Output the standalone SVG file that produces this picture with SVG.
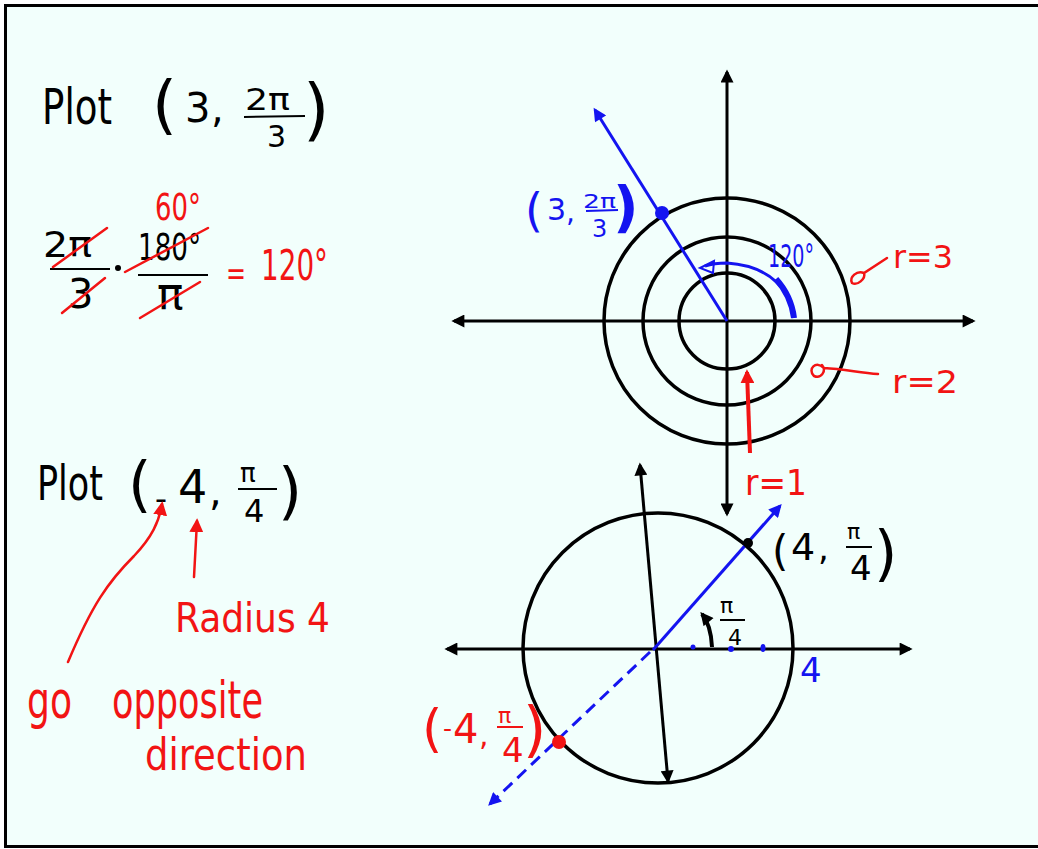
<svg xmlns="http://www.w3.org/2000/svg" width="1038" height="849" viewBox="0 0 1038 849">
<style>
.k{fill:#000}.b{fill:#1414f0}.r{fill:#f21414}
text{font-family:"DejaVu Sans","Liberation Sans",sans-serif}
.ax{stroke:#000;stroke-width:3;fill:none}
.cir{stroke:#000;stroke-width:3.5;fill:none}
.bl{stroke:#1414f0;stroke-width:3;fill:none}
.rl{stroke:#f21414;stroke-width:2.5;fill:none;stroke-linecap:round}
.kl{stroke:#000;stroke-width:2;fill:none}
</style>
<defs>
<marker id="mk" viewBox="0 0 10 10" refX="8" refY="5" markerWidth="14" markerHeight="13" markerUnits="userSpaceOnUse" orient="auto-start-reverse"><path d="M0,0 L10,5 L0,10 z" fill="#000"/></marker>
<marker id="mb" viewBox="0 0 10 10" refX="8" refY="5" markerWidth="14" markerHeight="13" markerUnits="userSpaceOnUse" orient="auto-start-reverse"><path d="M0,0 L10,5 L0,10 z" fill="#1414f0"/></marker>
<marker id="mr" viewBox="0 0 10 10" refX="8" refY="5" markerWidth="14" markerHeight="14" markerUnits="userSpaceOnUse" orient="auto-start-reverse"><path d="M0,0 L10,5 L0,10 z" fill="#f21414"/></marker>
</defs>
<rect x="0" y="0" width="1038" height="849" fill="#fff"/>
<rect x="5.5" y="5.5" width="1040" height="841" fill="#f2fffc" stroke="#000" stroke-width="3"/>

<g id="eq1">
<text class="k" x="42" y="124" font-size="50" textLength="70" lengthAdjust="spacingAndGlyphs">Plot</text>
<text class="k" x="152" y="127" font-size="64">(</text>
<text class="k" x="185" y="122" font-size="40">3</text>
<text class="k" x="211" y="122" font-size="40">,</text>
<text class="k" x="245" y="110" font-size="30" textLength="45" lengthAdjust="spacingAndGlyphs">2π</text>
<line class="kl" x1="244" y1="117" x2="305" y2="116"/>
<text class="k" x="267" y="147" font-size="30">3</text>
<text class="k" x="303" y="133" font-size="68">)</text>
</g>

<g id="conv">
<text class="r" x="155" y="220" font-size="38" textLength="46" lengthAdjust="spacingAndGlyphs">60°</text>
<text class="k" x="43" y="257" font-size="36" textLength="49" lengthAdjust="spacingAndGlyphs">2π</text>
<line class="kl" x1="50" y1="269" x2="110" y2="269"/>
<text class="k" x="68" y="308" font-size="40">3</text>
<circle cx="118" cy="268" r="3" fill="#000"/>
<text class="k" x="138" y="260" font-size="38" textLength="63" lengthAdjust="spacingAndGlyphs">180°</text>
<line class="kl" x1="138" y1="275" x2="208" y2="275"/>
<text class="k" x="157" y="309" font-size="44">π</text>
<line class="rl" x1="53" y1="267" x2="107" y2="228"/>
<line class="rl" x1="62" y1="313" x2="105" y2="278"/>
<line class="rl" x1="125" y1="272" x2="208" y2="228"/>
<line class="rl" x1="140" y1="318" x2="200" y2="282"/>
<text class="r" x="226" y="285" font-size="34" textLength="20" lengthAdjust="spacingAndGlyphs">=</text>
<text class="r" x="261" y="280" font-size="42" textLength="67" lengthAdjust="spacingAndGlyphs">120°</text>
</g>

<g id="polar1">
<line class="ax" x1="454" y1="321" x2="973" y2="321" marker-start="url(#mk)" marker-end="url(#mk)"/>
<line class="ax" x1="727" y1="72" x2="727" y2="514" marker-start="url(#mk)" marker-end="url(#mk)"/>
<circle class="cir" cx="727" cy="321" r="48"/>
<circle class="cir" cx="727" cy="321" r="84"/>
<circle class="cir" cx="727" cy="321" r="123"/>
</g>

<g id="point1">
<line class="bl" x1="727" y1="321" x2="595" y2="110" marker-end="url(#mb)"/>
<circle cx="662" cy="213" r="7" fill="#1414f0"/>
<text class="b" x="525" y="226" font-size="46">(</text>
<text class="b" x="547" y="220" font-size="30">3</text>
<text class="b" x="566" y="222" font-size="28">,</text>
<text class="b" x="583" y="208" font-size="20" textLength="33" lengthAdjust="spacingAndGlyphs">2π</text>
<line x1="586" y1="211" x2="618" y2="210" stroke="#1414f0" stroke-width="2"/>
<text class="b" x="592" y="237" font-size="24">3</text>
<text class="b" x="613" y="226" font-size="56" font-weight="bold">)</text>
</g>

<g id="angle120">
<path class="bl" d="M794 318 C791 292 772 266 727 263 C718 263 711 264 705 266"/>
<path d="M794 318 C792 302 786 290 776 279" stroke="#1414f0" stroke-width="6" fill="none"/>
<polygon points="700,268 714,261 713,273" fill="none" stroke="#1414f0" stroke-width="2"/>
<text class="b" x="768" y="267" font-size="32" textLength="46" lengthAdjust="spacingAndGlyphs">120°</text>
</g>

<g id="labels-r">
<path class="rl" d="M887 258 L864 273 C857 270 849 277 852 283 C857 286 866 279 864 273"/>
<text class="r" x="893" y="268" font-size="32" textLength="60" lengthAdjust="spacingAndGlyphs">r=3</text>
<path class="rl" d="M878 374 C860 373 845 369 824 368 C816 360 807 369 814 376 C821 379 827 371 822 365"/>
<text class="r" x="892" y="393" font-size="32" textLength="66" lengthAdjust="spacingAndGlyphs">r=2</text>
<line x1="750" y1="453" x2="747" y2="372" stroke="#f21414" stroke-width="4" marker-end="url(#mr)"/>
<text class="r" x="745" y="495" font-size="36" textLength="62" lengthAdjust="spacingAndGlyphs">r=1</text>
</g>

<g id="eq2">
<text class="k" x="37" y="500" font-size="48" textLength="66" lengthAdjust="spacingAndGlyphs">Plot</text>
<text class="k" x="128" y="505" font-size="60">(</text>
<text class="k" x="155" y="510" font-size="30" textLength="12" lengthAdjust="spacingAndGlyphs">−</text>
<text class="k" x="178" y="503" font-size="46">4</text>
<text class="k" x="209" y="505" font-size="40">,</text>
<text class="k" x="240" y="482" font-size="26">π</text>
<line class="kl" x1="238" y1="489" x2="277" y2="489"/>
<text class="k" x="244" y="522" font-size="32">4</text>
<text class="k" x="278" y="512" font-size="62">)</text>
</g>

<g id="notes2">
<path class="rl" d="M68 662 C92 605 108 582 134 556 C152 537 159 522 162 504" marker-end="url(#mr)"/>
<line class="rl" x1="194" y1="577" x2="197" y2="521" marker-end="url(#mr)"/>
<text class="r" x="175" y="632" font-size="40" textLength="155" lengthAdjust="spacingAndGlyphs">Radius 4</text>
<text class="r" font-size="52"><tspan x="27" y="718" textLength="45" lengthAdjust="spacingAndGlyphs">go</tspan> <tspan x="112" y="718" textLength="151" lengthAdjust="spacingAndGlyphs">opposite</tspan></text>
<text class="r" x="145" y="770" font-size="44" textLength="162" lengthAdjust="spacingAndGlyphs">direction</text>
</g>

<g id="polar2">
<line class="ax" x1="447" y1="649" x2="910" y2="649" marker-start="url(#mk)" marker-end="url(#mk)"/>
<line class="ax" x1="640" y1="465" x2="668" y2="781" marker-start="url(#mk)" marker-end="url(#mk)"/>
<circle class="cir" cx="658" cy="648" r="135"/>
</g>

<g id="point2">
<line class="bl" x1="653" y1="650" x2="780" y2="506" marker-end="url(#mb)"/>
<line class="bl" x1="650" y1="652" x2="490" y2="804" stroke-dasharray="12 7" marker-end="url(#mb)"/>
<circle cx="748" cy="543" r="5" fill="#000"/>
<circle cx="559" cy="742" r="7" fill="#f21414"/>
<circle cx="693" cy="647" r="2.5" fill="#1414f0"/>
<circle cx="731" cy="649" r="3" fill="#1414f0"/>
<ellipse cx="763" cy="648" rx="2.5" ry="4" fill="#1414f0"/>
<path d="M712 647 Q711 625 702 614" stroke="#000" stroke-width="4" fill="none" marker-end="url(#mk)"/>
<text class="k" x="720" y="613" font-size="22">π</text>
<line class="kl" x1="720" y1="620" x2="745" y2="620"/>
<text class="k" x="728" y="645" font-size="22">4</text>
<text class="b" x="800" y="682" font-size="34">4</text>
<text class="k" x="772" y="566" font-size="42">(</text>
<text class="k" x="791" y="560" font-size="38">4</text>
<text class="k" x="818" y="560" font-size="34">,</text>
<text class="k" x="847" y="539" font-size="22">π</text>
<line class="kl" x1="846" y1="547" x2="872" y2="547"/>
<text class="k" x="850" y="580" font-size="34">4</text>
<text class="k" x="874" y="574" font-size="60">)</text>
<text class="r" x="422" y="746" font-size="52">(</text>
<text class="r" x="443" y="737" font-size="24" textLength="9" lengthAdjust="spacingAndGlyphs">-</text>
<text class="r" x="453" y="743" font-size="40">4</text>
<text class="r" x="479" y="745" font-size="30">,</text>
<text class="r" x="498" y="723" font-size="22">π</text>
<line x1="497" y1="727" x2="523" y2="727" stroke="#f21414" stroke-width="2"/>
<text class="r" x="502" y="762" font-size="34">4</text>
<text class="r" x="523" y="750" font-size="60">)</text>
</g>
</svg>
